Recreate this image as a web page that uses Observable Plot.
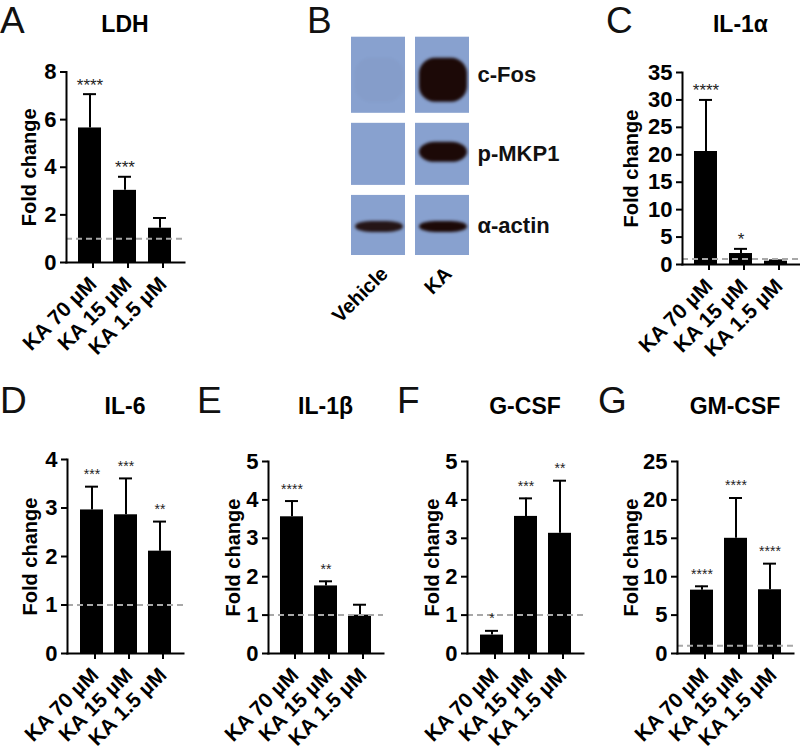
<!DOCTYPE html>
<html>
<head>
<meta charset="utf-8">
<script src="https://cdn.jsdelivr.net/npm/d3@7"></script>
<script src="https://cdn.jsdelivr.net/npm/@observablehq/plot@0.6"></script>
<style>
  body { margin: 0; background: #fff; }
  #fig { position: relative; width: 800px; height: 751px; overflow: hidden; background: #fff;
         font-family: "Liberation Sans", Arial, sans-serif; color: #000; }
  .panel { position: absolute; }
  .panel svg { overflow: visible; }
  .letter { position: absolute; font-size: 37px; line-height: 37px; font-weight: normal; color: #111; white-space: nowrap; }
  .title { position: absolute; font-size: 23px; line-height: 23px; font-weight: bold; text-align: center; width: 200px; white-space: nowrap; }
</style>
</head>
<body>
<div id="fig"></div>
<script>
// ---------------- data ----------------
const categories = ["KA 70 µM", "KA 15 µM", "KA 1.5 µM"];

// A: LDH
const ldhMean  = [5.65, 3.03, 1.44];
const ldhUpper = [7.07, 3.60, 1.87];
const ldhStars = ["****", "***", ""];
const ldhTicks = [0, 2, 4, 6, 8];

// C: IL-1α
const il1aMean  = [20.6, 2.0, 0.6];
const il1aUpper = [30.0, 2.85, 0.75];
const il1aStars = ["****", "*", ""];
const il1aTicks = [0, 5, 10, 15, 20, 25, 30, 35];

// D: IL-6
const il6Mean  = [2.96, 2.86, 2.11];
const il6Upper = [3.44, 3.61, 2.72];
const il6Stars = ["***", "***", "**"];
const il6Ticks = [0, 1, 2, 3, 4];

// E: IL-1β
const il1bMean  = [3.56, 1.76, 1.0];
const il1bUpper = [3.97, 1.88, 1.27];
const il1bStars = ["****", "**", ""];
const il1bTicks = [0, 1, 2, 3, 4, 5];

// F: G-CSF
const gcsfMean  = [0.48, 3.57, 3.13];
const gcsfUpper = [0.59, 4.04, 4.50];
const gcsfStars = ["*", "***", "**"];
const gcsfTicks = [0, 1, 2, 3, 4, 5];

// G: GM-CSF
const gmcsfMean  = [8.25, 15.0, 8.3];
const gmcsfUpper = [8.75, 20.25, 11.7];
const gmcsfStars = ["****", "****", "****"];
const gmcsfTicks = [0, 5, 10, 15, 20, 25];

// B: western blot (positions along the membrane strip, arbitrary migration units)
const lanes = ["Vehicle", "KA"];
const proteins = ["c-Fos", "p-MKP1", "α-actin"];
const stripStart = [0, 86, 158];
const stripEnd   = [76, 148, 218];
const bandStart  = [21, 105, 184];
const bandEnd    = [65, 125, 195];
const vehicleSignal = [0.025, 0, 0.92];
const kaSignal      = [1, 1, 1];

// ---------------- drawing ----------------
const fig = document.getElementById("fig");
const FONT = "'Liberation Sans', Arial, Helvetica, sans-serif";

function place(node, left, top) {
  const d = document.createElement("div");
  d.className = "panel";
  d.style.left = left + "px";
  d.style.top = top + "px";
  d.appendChild(node);
  fig.appendChild(d);
}
function addLetter(txt, left, top) {
  const d = document.createElement("div");
  d.className = "letter";
  d.textContent = txt;
  d.style.left = left + "px";
  d.style.top = top + "px";
  fig.appendChild(d);
}
function addTitle(txt, centerX, top) {
  const d = document.createElement("div");
  d.className = "title";
  d.textContent = txt;
  d.style.left = (centerX - 100) + "px";
  d.style.top = top + "px";
  fig.appendChild(d);
}

function barPanel(cfg) {
  const data = categories.map((c, i) => ({cat: c, mean: cfg.mean[i], upper: cfg.upper[i], star: cfg.stars[i]}));
  const max = cfg.ticks[cfg.ticks.length - 1];
  const p = Plot.plot({
    width: cfg.w, height: cfg.h,
    marginLeft: cfg.mL, marginRight: cfg.mR, marginTop: cfg.mT, marginBottom: cfg.mB,
    style: {fontFamily: FONT, fontWeight: "bold", fontSize: "20px", background: "transparent", overflow: "visible", color: "#000"},
    x: {domain: categories, padding: 1 / 3, axis: null},
    y: {domain: [0, max], axis: null},
    marks: [
      Plot.barY(data, {x: "cat", y: "mean", fill: "#000"}),
      Plot.ruleX(data, {x: "cat", y1: "mean", y2: "upper", stroke: "#000", strokeWidth: 2}),
      Plot.tickY(data, {x: "cat", y: "upper", stroke: "#000", strokeWidth: 2, insetLeft: 5, insetRight: 5}),
      Plot.ruleY([1], {stroke: "#a8a8a8", strokeWidth: 2, strokeDasharray: "6,4"}),
      Plot.frame({anchor: "left", stroke: "#000", strokeWidth: 2}),
      Plot.frame({anchor: "bottom", stroke: "#000", strokeWidth: 2}),
      Plot.axisY({ticks: cfg.ticks, tickFormat: d => String(d), tickSize: 6, tickPadding: 4, strokeWidth: 2, fontSize: 22, label: null}),
      Plot.axisX({tickSize: 6, tickPadding: 12, dx: 3, strokeWidth: 2, tickRotate: -45, fontSize: 21, label: null}),
      Plot.text(data, {x: "cat", y: "upper", text: "star", dy: cfg.starDy, fontSize: cfg.starSize, fontWeight: "normal", fill: "#1e1e1e"}),
      Plot.text(["Fold change"], {frameAnchor: "left", textAnchor: "middle", lineAnchor: "middle", rotate: -90,
        dx: cfg.labelDx, fontSize: 20, fontWeight: "bold", fill: "#000"})
    ]
  });
  place(p, cfg.left, cfg.top);
  const cx = cfg.left + cfg.mL + (cfg.w - cfg.mL - cfg.mR) / 2;
  addTitle(cfg.title, cx, cfg.titleTop);
}

// A
barPanel({title: "LDH", mean: ldhMean, upper: ldhUpper, stars: ldhStars, ticks: ldhTicks,
  left: 0, top: 0, w: 200, h: 370, mL: 66, mR: 16, mT: 71.5, mB: 108,
  starDy: -9, starSize: 17, labelDx: -37, titleTop: 13});
// C
barPanel({title: "IL-1α", mean: il1aMean, upper: il1aUpper, stars: il1aStars, ticks: il1aTicks,
  left: 600, top: 0, w: 200, h: 370, mL: 82, mR: 1, mT: 72, mB: 106,
  starDy: -9, starSize: 17, labelDx: -51, titleTop: 13});
// D
barPanel({title: "IL-6", mean: il6Mean, upper: il6Upper, stars: il6Stars, ticks: il6Ticks,
  left: 0, top: 380, w: 200, h: 371, mL: 67, mR: 17, mT: 79, mB: 98,
  starDy: -12, starSize: 14, labelDx: -37, titleTop: 395});
// E
barPanel({title: "IL-1β", mean: il1bMean, upper: il1bUpper, stars: il1bStars, ticks: il1bTicks,
  left: 200, top: 380, w: 200, h: 371, mL: 68, mR: 17, mT: 81, mB: 98,
  starDy: -12, starSize: 14, labelDx: -35, titleTop: 395});
// F
barPanel({title: "G-CSF", mean: gcsfMean, upper: gcsfUpper, stars: gcsfStars, ticks: gcsfTicks,
  left: 400, top: 380, w: 200, h: 371, mL: 67, mR: 17, mT: 81, mB: 98,
  starDy: -12, starSize: 14, labelDx: -35, titleTop: 395});
// G
barPanel({title: "GM-CSF", mean: gmcsfMean, upper: gmcsfUpper, stars: gmcsfStars, ticks: gmcsfTicks,
  left: 600, top: 380, w: 200, h: 371, mL: 77, mR: 7, mT: 81, mB: 98,
  starDy: -12, starSize: 14, labelDx: -46, titleTop: 395});

// B: blot
const strips = [];
const bands = [];
proteins.forEach((pr, i) => {
  lanes.forEach((ln, j) => {
    strips.push({lane: ln, protein: pr, start: stripStart[i], end: stripEnd[i]});
    const s = j === 0 ? vehicleSignal[i] : kaSignal[i];
    if (s > 0) bands.push({lane: ln, protein: pr, start: bandStart[i], end: bandEnd[i], signal: s});
  });
});
const rowLabels = proteins.map((pr, i) => ({protein: pr, mid: (stripStart[i] + stripEnd[i]) / 2}));

const blot = Plot.plot({
  width: 300, height: 370,
  marginLeft: 51, marginRight: 130, marginTop: 36.7, marginBottom: 115,
  style: {fontFamily: FONT, fontSize: "20px", background: "transparent", overflow: "visible", color: "#000"},
  x: {domain: lanes, paddingInner: 0.155, paddingOuter: 0, axis: null},
  y: {domain: [0, 218], reverse: true, axis: null},
  opacity: {domain: [0, 1], range: [0, 1]},
  marks: [
    Plot.barY(strips, {x: "lane", y1: "start", y2: "end", fill: "#88a1cf"}),
    Plot.barY(bands, {x: "lane", y1: "start", y2: "end", fill: "#1c0907", fillOpacity: "signal",
      rx: 16, insetLeft: 4, insetRight: 2, imageFilter: "blur(1.8px)"}),
    Plot.text(rowLabels, {y: "mid", text: "protein", frameAnchor: "right", textAnchor: "start", dx: 7,
      fontSize: 22, fontWeight: "bold", fill: "#111"}),
    Plot.axisX({tickSize: 0, tickPadding: 15, dx: 6, tickRotate: -45, fontSize: 20, fontWeight: "bold", label: null})
  ]
});
place(blot, 300, 0);

// panel letters
addLetter("A", 0, 2.3);
addLetter("B", 307, 2.3);
addLetter("C", 606, 2.3);
addLetter("D", 0, 382);
addLetter("E", 197, 382);
addLetter("F", 397, 382);
addLetter("G", 598, 382);
</script>
</body>
</html>
